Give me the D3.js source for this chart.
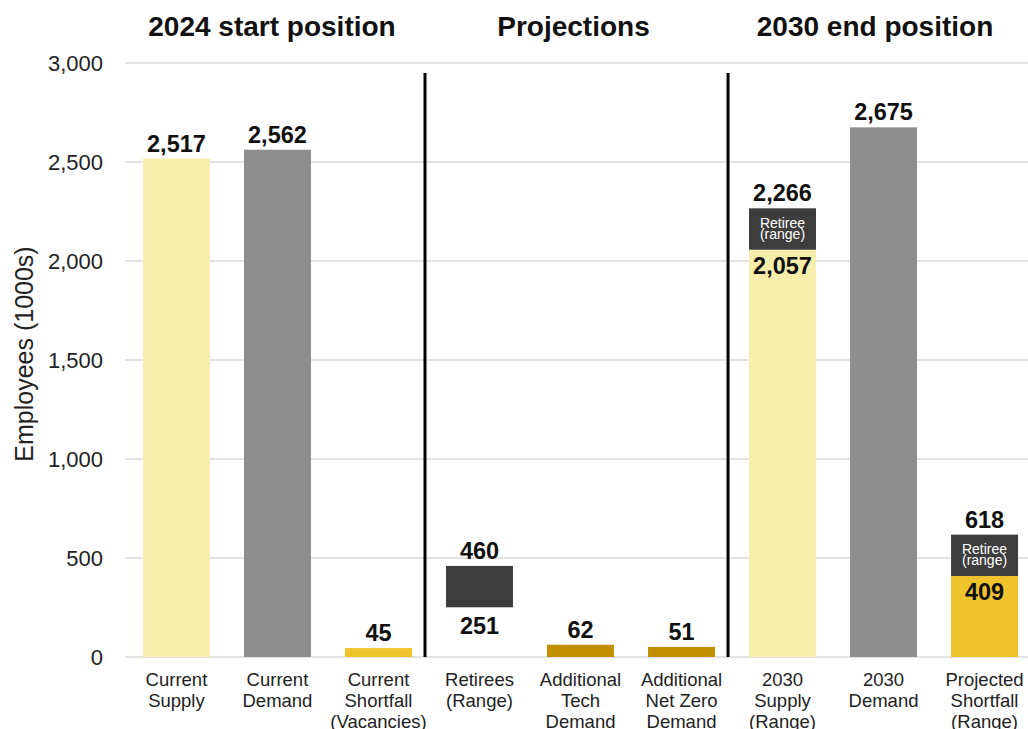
<!DOCTYPE html>
<html>
<head>
<meta charset="utf-8">
<script src="https://cdn.jsdelivr.net/npm/d3@7"></script>
<style>
  body { margin: 0; background: #fff; }
  svg { font-family: "Liberation Sans", Arial, sans-serif; }
</style>
</head>
<body>
<svg width="1028" height="729"></svg>
<script>
  // categories (label lines)
  const categories = [
    ["Current", "Supply"],
    ["Current", "Demand"],
    ["Current", "Shortfall", "(Vacancies)"],
    ["Retirees", "(Range)"],
    ["Additional", "Tech", "Demand"],
    ["Additional", "Net Zero", "Demand"],
    ["2030", "Supply", "(Range)"],
    ["2030", "Demand"],
    ["Projected", "Shortfall", "(Range)"]
  ];
  // main bar: from base to value
  const baseValues = [0, 0, 0, 251, 0, 0, 0, 0, 0];
  const mainValues = [2517, 2562, 45, 460, 62, 51, 2057, 2675, 409];
  const barKinds = ["supply", "demand", "shortfall", "retiree", "extra", "extra", "supply", "demand", "shortfall"];
  // retiree range stacked on top (only for end-position ranges)
  const rangeTop = [null, null, null, null, null, null, 2266, null, 618];
  const sections = [
    { title: "2024 start position", from: 0, to: 2 },
    { title: "Projections", from: 3, to: 5 },
    { title: "2030 end position", from: 6, to: 8 }
  ];
  const yTicks = [0, 500, 1000, 1500, 2000, 2500, 3000];

  const colors = {
    supply: "#f8eeac",
    demand: "#8e8e8e",
    shortfall: "#f0c22c",
    retiree: "#3d3d3d",
    extra: "#c18f00"
  };

  const svg = d3.select("svg");
  const margin = { top: 63, right: 0, bottom: 72, left: 125 };
  const width = 1028, height = 729;
  const fmt = d3.format(",");

  const x = d3.scaleBand()
    .domain(d3.range(categories.length))
    .range([126, 1035])
    .paddingInner(0.337)
    .paddingOuter(0.168);

  const y = d3.scaleLinear()
    .domain([0, 3000])
    .range([height - margin.bottom, margin.top]);

  // gridlines
  svg.append("g")
    .selectAll("line")
    .data(yTicks)
    .join("line")
    .attr("x1", margin.left)
    .attr("x2", width)
    .attr("y1", d => y(d))
    .attr("y2", d => y(d))
    .attr("stroke", "#d9d9d9")
    .attr("stroke-width", 1.5);

  // y axis labels
  const yAxis = svg.append("g")
    .attr("transform", `translate(${margin.left - 22},0)`)
    .call(d3.axisLeft(y).tickValues(yTicks).tickFormat(fmt).tickSize(0).tickPadding(0));
  yAxis.select(".domain").remove();
  yAxis.selectAll("text")
    .attr("font-size", 22)
    .attr("fill", "#222")
    .attr("font-family", "Liberation Sans, Arial, sans-serif");

  // y axis title
  svg.append("text")
    .attr("transform", `translate(33, 354) rotate(-90)`)
    .attr("text-anchor", "middle")
    .attr("font-size", 25)
    .attr("fill", "#222")
    .text("Employees (1000s)");

  // divider sits just right of the previous bar
  const dividerX = i => x(i) - 21;
  const sectionEdges = [margin.left, dividerX(3), dividerX(6), width];

  // section titles
  svg.append("g")
    .selectAll("text")
    .data(sections)
    .join("text")
    .attr("x", (d, k) => (sectionEdges[k] + sectionEdges[k + 1]) / 2 - 3)
    .attr("y", 36)
    .attr("text-anchor", "middle")
    .attr("font-size", 28)
    .attr("font-weight", "bold")
    .attr("fill", "#111")
    .text(d => d.title);

  // section dividers
  svg.append("g")
    .selectAll("line")
    .data(sections.slice(1))
    .join("line")
    .attr("x1", d => dividerX(d.from))
    .attr("x2", d => dividerX(d.from))
    .attr("y1", 73)
    .attr("y2", y(0))
    .attr("stroke", "#000")
    .attr("stroke-width", 3);

  const idx = d3.range(categories.length);

  // main bars
  svg.append("g")
    .selectAll("rect")
    .data(idx)
    .join("rect")
    .attr("x", i => x(i))
    .attr("width", x.bandwidth())
    .attr("y", i => y(mainValues[i]))
    .attr("height", i => y(baseValues[i]) - y(mainValues[i]))
    .attr("fill", i => colors[barKinds[i]]);

  // retiree range stacks
  const stacked = idx.filter(i => rangeTop[i] != null);
  svg.append("g")
    .selectAll("rect")
    .data(stacked)
    .join("rect")
    .attr("x", i => x(i))
    .attr("width", x.bandwidth())
    .attr("y", i => y(rangeTop[i]))
    .attr("height", i => y(mainValues[i]) - y(rangeTop[i]))
    .attr("fill", colors.retiree);

  const rangeText = svg.append("g")
    .selectAll("text")
    .data(stacked)
    .join("text")
    .attr("text-anchor", "middle")
    .attr("font-size", 14)
    .attr("fill", "#fff");
  rangeText.append("tspan")
    .attr("x", i => x(i) + x.bandwidth() / 2)
    .attr("y", i => (y(rangeTop[i]) + y(mainValues[i])) / 2 - 1)
    .text("Retiree");
  rangeText.append("tspan")
    .attr("x", i => x(i) + x.bandwidth() / 2)
    .attr("dy", 11)
    .text("(range)");

  // value labels
  const labels = [];
  idx.forEach(i => {
    const cx = x(i) + x.bandwidth() / 2;
    const top = rangeTop[i] != null ? rangeTop[i] : mainValues[i];
    labels.push({ x: cx, y: y(top) - 7, t: fmt(top) });
    if (rangeTop[i] != null) {
      labels.push({ x: cx, y: y(mainValues[i]) + 24, t: fmt(mainValues[i]) });
    }
    if (baseValues[i] > 0) {
      labels.push({ x: cx, y: y(baseValues[i]) + 27, t: fmt(baseValues[i]) });
    }
  });
  svg.append("g")
    .selectAll("text")
    .data(labels)
    .join("text")
    .attr("x", d => d.x)
    .attr("y", d => d.y)
    .attr("text-anchor", "middle")
    .attr("font-size", 23.5)
    .attr("font-weight", "bold")
    .attr("fill", "#111")
    .text(d => d.t);

  // category labels
  const cat = svg.append("g")
    .selectAll("text")
    .data(idx)
    .join("text")
    .attr("text-anchor", "middle")
    .attr("font-size", 18.5)
    .attr("fill", "#222");
  cat.selectAll("tspan")
    .data(i => categories[i].map(t => ({ i, t })))
    .join("tspan")
    .attr("x", d => x(d.i) + x.bandwidth() / 2)
    .attr("y", (d, k) => 686 + k * 21)
    .text(d => d.t);
</script>
</body>
</html>
